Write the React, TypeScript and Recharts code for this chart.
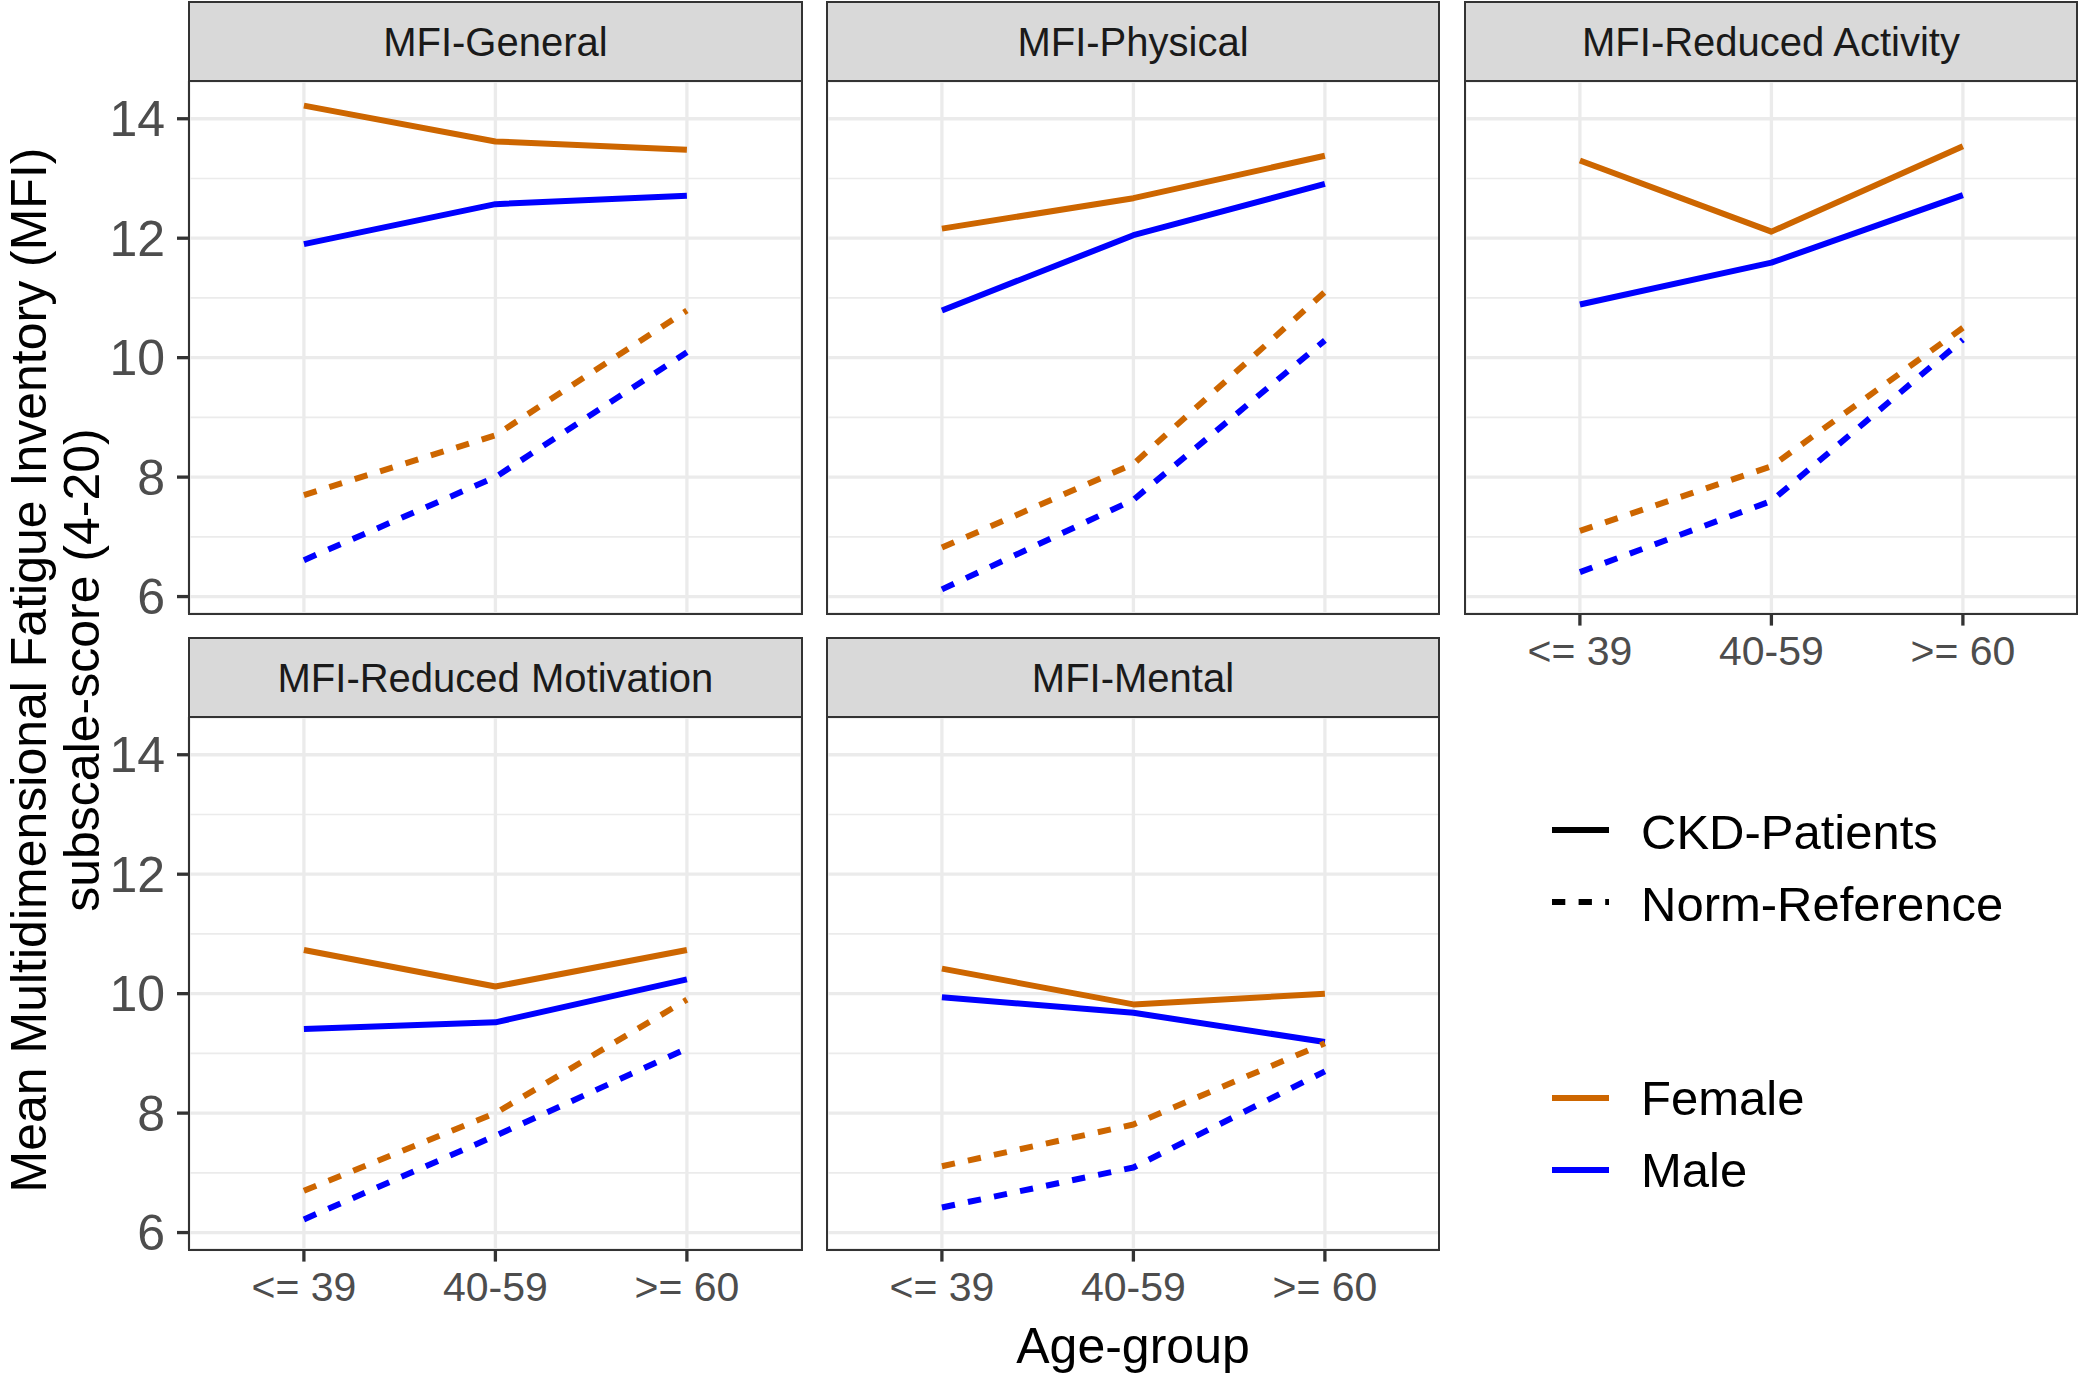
import React from 'react';
import { LineChart, Line, XAxis, YAxis, CartesianGrid } from 'recharts';

// ---- data ----
const ageGroups = ['<= 39', '40-59', '>= 60'];
const subscales = ['MFI-General', 'MFI-Physical', 'MFI-Reduced Activity', 'MFI-Reduced Motivation', 'MFI-Mental'];
// one row per subscale, values per age group
const femaleCKD = [
  [14.22, 13.62, 13.48],
  [12.16, 12.67, 13.38],
  [13.3, 12.11, 13.54],
  [10.73, 10.12, 10.73],
  [10.42, 9.82, 10.0],
];
const maleCKD = [
  [11.9, 12.57, 12.71],
  [10.79, 12.05, 12.91],
  [10.89, 11.59, 12.72],
  [9.41, 9.52, 10.24],
  [9.94, 9.68, 9.19],
];
const femaleNorm = [
  [7.7, 8.7, 10.79],
  [6.82, 8.22, 11.1],
  [7.1, 8.18, 10.5],
  [6.7, 8.0, 9.9],
  [7.11, 7.81, 9.17],
];
const maleNorm = [
  [6.61, 8.0, 10.09],
  [6.12, 7.62, 10.29],
  [6.41, 7.6, 10.3],
  [6.22, 7.62, 9.08],
  [6.42, 7.09, 8.7],
];
const yTicks = [6, 8, 10, 12, 14];
const yMinorTicks = [7, 9, 11, 13];
const xTicks = [1, 2, 3];
const linetypeLabels = ['CKD-Patients', 'Norm-Reference'];
const sexLabels = ['Female', 'Male'];

// ---- styles ----
const FONT = '"Liberation Sans", Arial, Helvetica, sans-serif';
const ORANGE = '#CD6600';
const BLUE = '#0000FF';
const LW = 6;
const DASH = '13.3 13.3';
const Y_DOMAIN: [number, number] = [5.715, 14.632];
const X_DOMAIN: [number, number] = [0.4, 3.6];

const colLefts = [189, 826.6, 1464.6];
const rowTops = [2, 638];
const PANEL_W = 612.8;
const STRIP_H = 79;
const PANEL_H = 532.6;
const Y_AXIS_W = 189;
const X_AXIS_H = 100;
const PAD_B = 24;

const layout = [
  { col: 0, row: 0, showX: false, showY: true },
  { col: 1, row: 0, showX: false, showY: false },
  { col: 2, row: 0, showX: true, showY: false },
  { col: 0, row: 1, showX: true, showY: true },
  { col: 1, row: 1, showX: true, showY: false },
];

function Panel({ idx }: { idx: number }) {
  const { col, row, showX, showY } = layout[idx];
  const left = colLefts[col];
  const stripTop = rowTops[row];
  const top = stripTop + STRIP_H;
  const yW = showY ? Y_AXIS_W : 0;
  const xH = showX ? X_AXIS_H : 0;
  const padB = showX ? 0 : PAD_B;
  const data = ageGroups.map((g, i) => ({
    x: i + 1,
    group: g,
    fc: femaleCKD[idx][i],
    mc: maleCKD[idx][i],
    fn: femaleNorm[idx][i],
    mn: maleNorm[idx][i],
  }));
  return (
    <>
      <div style={{ position: 'absolute', left: left - yW, top }}>
        <LineChart
          width={PANEL_W + yW}
          height={PANEL_H + xH + padB}
          data={data}
          margin={{ top: 0, right: 0, bottom: padB, left: 0 }}
        >
          <CartesianGrid yAxisId="minor" vertical={false} stroke="#EBEBEB" strokeWidth={1.7} />
          <CartesianGrid stroke="#EBEBEB" strokeWidth={3.3} />
          <XAxis
            dataKey="x"
            type="number"
            domain={X_DOMAIN}
            ticks={xTicks}
            allowDataOverflow
            hide={!showX}
            height={xH || 1}
            interval={0}
            tickFormatter={(v: number) => ageGroups[v - 1]}
            tickSize={12}
            tickMargin={10}
            axisLine={false}
            tickLine={{ stroke: '#333333', strokeWidth: 3.3 }}
            tick={{ fontSize: 41, fill: '#4D4D4D', fontFamily: FONT }}
          />
          <YAxis
            type="number"
            domain={Y_DOMAIN}
            ticks={yTicks}
            allowDataOverflow
            hide={!showY}
            width={yW || 1}
            interval={0}
            tickSize={12}
            tickMargin={12}
            axisLine={false}
            tickLine={{ stroke: '#333333', strokeWidth: 3.3 }}
            tick={{ fontSize: 50, fill: '#4D4D4D', fontFamily: FONT }}
          />
          <YAxis yAxisId="minor" type="number" domain={Y_DOMAIN} ticks={yMinorTicks} allowDataOverflow hide />
          <Line dataKey="fc" stroke={ORANGE} strokeWidth={LW} dot={false} activeDot={false} isAnimationActive={false} strokeLinejoin="round" type="linear" />
          <Line dataKey="mc" stroke={BLUE} strokeWidth={LW} dot={false} activeDot={false} isAnimationActive={false} strokeLinejoin="round" type="linear" />
          <Line dataKey="fn" stroke={ORANGE} strokeWidth={LW} strokeDasharray={DASH} dot={false} activeDot={false} isAnimationActive={false} strokeLinejoin="round" type="linear" />
          <Line dataKey="mn" stroke={BLUE} strokeWidth={LW} strokeDasharray={DASH} dot={false} activeDot={false} isAnimationActive={false} strokeLinejoin="round" type="linear" />
        </LineChart>
      </div>
      {/* panel border */}
      <div
        style={{
          position: 'absolute',
          left: left - 1,
          top: top - 1,
          width: PANEL_W + 2,
          height: PANEL_H + 2,
          border: '2px solid #333333',
          boxSizing: 'border-box',
          pointerEvents: 'none',
        }}
      />
      {/* strip */}
      <div
        style={{
          position: 'absolute',
          left: left - 1,
          top: stripTop - 1,
          width: PANEL_W + 2,
          height: STRIP_H + 2,
          border: '2px solid #333333',
          boxSizing: 'border-box',
          background: '#D9D9D9',
          display: 'flex',
          alignItems: 'center',
          justifyContent: 'center',
          fontFamily: FONT,
          fontSize: 40,
          color: '#1A1A1A',
          lineHeight: 1,
        }}
      >
        {subscales[idx]}
      </div>
    </>
  );
}

export default function App() {
  const legendKeyX1 = 1552;
  const legendKeyX2 = 1609;
  const legendTextX = 1641;
  const ltY = [830, 902];
  const sexY = [1098, 1170];
  return (
    <div
      style={{
        position: 'absolute',
        left: 0,
        top: 0,
        width: 2080,
        height: 1373,
        background: '#FFFFFF',
        overflow: 'hidden',
        fontFamily: FONT,
      }}
    >
      <svg width={2080} height={1373} style={{ position: 'absolute', left: 0, top: 0 }}>
        <g transform="translate(46, 670) rotate(-90)">
          <text x={0} y={0} textAnchor="middle" fontSize={50} fontFamily={FONT} fill="#000">
            Mean Multidimensional Fatigue Inventory (MFI)
          </text>
        </g>
        <g transform="translate(99, 670) rotate(-90)">
          <text x={0} y={0} textAnchor="middle" fontSize={50} fontFamily={FONT} fill="#000">
            subscale-score (4-20)
          </text>
        </g>
        <text x={1133} y={1363} textAnchor="middle" fontSize={50} fontFamily={FONT} fill="#000">
          Age-group
        </text>
        {linetypeLabels.map((lab, i) => (
          <g key={lab}>
            <line
              x1={legendKeyX1}
              x2={legendKeyX2}
              y1={ltY[i]}
              y2={ltY[i]}
              stroke="#000"
              strokeWidth={LW}
              strokeDasharray={i === 1 ? DASH : undefined}
            />
            <text x={legendTextX} y={ltY[i] + 19} fontSize={49} fontFamily={FONT} fill="#000">
              {lab}
            </text>
          </g>
        ))}
        {sexLabels.map((lab, i) => (
          <g key={lab}>
            <line
              x1={legendKeyX1}
              x2={legendKeyX2}
              y1={sexY[i]}
              y2={sexY[i]}
              stroke={i === 0 ? ORANGE : BLUE}
              strokeWidth={LW}
            />
            <text x={legendTextX} y={sexY[i] + 17} fontSize={49} fontFamily={FONT} fill="#000">
              {lab}
            </text>
          </g>
        ))}
      </svg>
      {subscales.map((s, i) => (
        <Panel key={s} idx={i} />
      ))}
    </div>
  );
}
